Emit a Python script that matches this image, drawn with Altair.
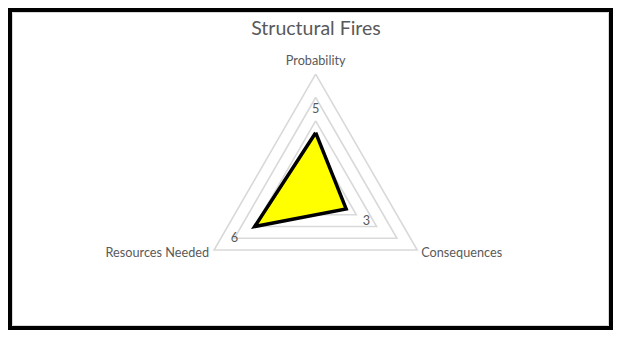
import math
import altair as alt
import pandas as pd

title = "Structural Fires"
categories = ["Probability", "Consequences", "Resources Needed"]
values = [5, 3, 6]
grid_levels = [2, 4, 6, 8, 10]
axis_max = 10
label_offset = 2

n = len(categories)
angles = [2 * math.pi * i / n for i in range(n)]

# gridline triangles
grid_rows = []
for lvl in grid_levels:
    for j in range(n + 1):
        a = angles[j % n]
        grid_rows.append({"level": lvl, "idx": j, "x": lvl * math.sin(a), "y": lvl * math.cos(a)})
grid_df = pd.DataFrame(grid_rows)

# data polygon
poly_rows = []
for j in range(n + 1):
    a = angles[j % n]
    v = values[j % n]
    poly_rows.append({"idx": j, "x": v * math.sin(a), "y": v * math.cos(a)})
poly_df = pd.DataFrame(poly_rows)

# value labels
val_df = pd.DataFrame({
    "category": categories,
    "value": values,
    "x": [(v + label_offset) * math.sin(a) for v, a in zip(values, angles)],
    "y": [(v + label_offset) * math.cos(a) for v, a in zip(values, angles)],
})

# category labels at outer ring vertices
cat_df = pd.DataFrame({
    "category": categories,
    "x": [axis_max * math.sin(a) for a in angles],
    "y": [axis_max * math.cos(a) for a in angles],
})

W, H = 605, 322
xs = alt.Scale(domain=[-26.23, 25.35], nice=False, zero=False)
ys = alt.Scale(domain=[-11.82, 15.63], nice=False, zero=False)
X = alt.X("x:Q", scale=xs, axis=None)
Y = alt.Y("y:Q", scale=ys, axis=None)

font = "Lato"
gray = "#595959"
fs = 12.7

frame = alt.Chart(pd.DataFrame({"k": [0]})).mark_rect(
    fill="white", stroke="black", strokeWidth=8
).encode(x=alt.value(0), x2=alt.value(W), y=alt.value(0), y2=alt.value(H))

inner = alt.Chart(pd.DataFrame({"k": [0]})).mark_rect(
    fill="white", stroke="#d9d9d9", strokeWidth=1
).encode(x=alt.value(4.5), x2=alt.value(W - 4.5), y=alt.value(4.5), y2=alt.value(H - 4.5))

title_mark = alt.Chart(pd.DataFrame({"t": [title]})).mark_text(
    font=font, fontSize=19.5, color=gray, align="center", baseline="alphabetic"
).encode(x=alt.value(308), y=alt.value(27), text="t:N")

grid = alt.Chart(grid_df).mark_line(color="#d9d9d9", strokeWidth=1.6, strokeJoin="miter").encode(
    x=X, y=Y, detail="level:N", order="idx:Q"
)

poly = alt.Chart(poly_df).mark_line(
    fill="#ffff00", stroke="black", strokeWidth=3.5, strokeJoin="miter"
).encode(x=X, y=Y, order="idx:Q")

vlabels = alt.Chart(val_df).mark_text(font=font, fontSize=fs, color=gray).encode(
    x=X, y=Y, text="value:Q"
)

lab_top = alt.Chart(cat_df).transform_filter(
    alt.datum.category == categories[0]
).mark_text(font=font, fontSize=fs, color=gray, align="center", baseline="bottom", dy=-6).encode(
    x=X, y=Y, text="category:N"
)
lab_right = alt.Chart(cat_df).transform_filter(
    alt.datum.category == categories[1]
).mark_text(font=font, fontSize=fs, color=gray, align="left", baseline="middle", dx=4, dy=3).encode(
    x=X, y=Y, text="category:N"
)
lab_left = alt.Chart(cat_df).transform_filter(
    alt.datum.category == categories[2]
).mark_text(font=font, fontSize=fs, color=gray, align="right", baseline="middle", dx=-5, dy=3).encode(
    x=X, y=Y, text="category:N"
)

chart = alt.layer(frame, inner, title_mark, grid, poly, vlabels, lab_top, lab_right, lab_left).properties(
    width=W, height=H,
    padding=0,
    autosize=alt.AutoSizeParams(type="none"),
    background="white",
).configure_view(stroke=None)

chart.save("out.html", embed_options={"renderer": "svg", "actions": False})
